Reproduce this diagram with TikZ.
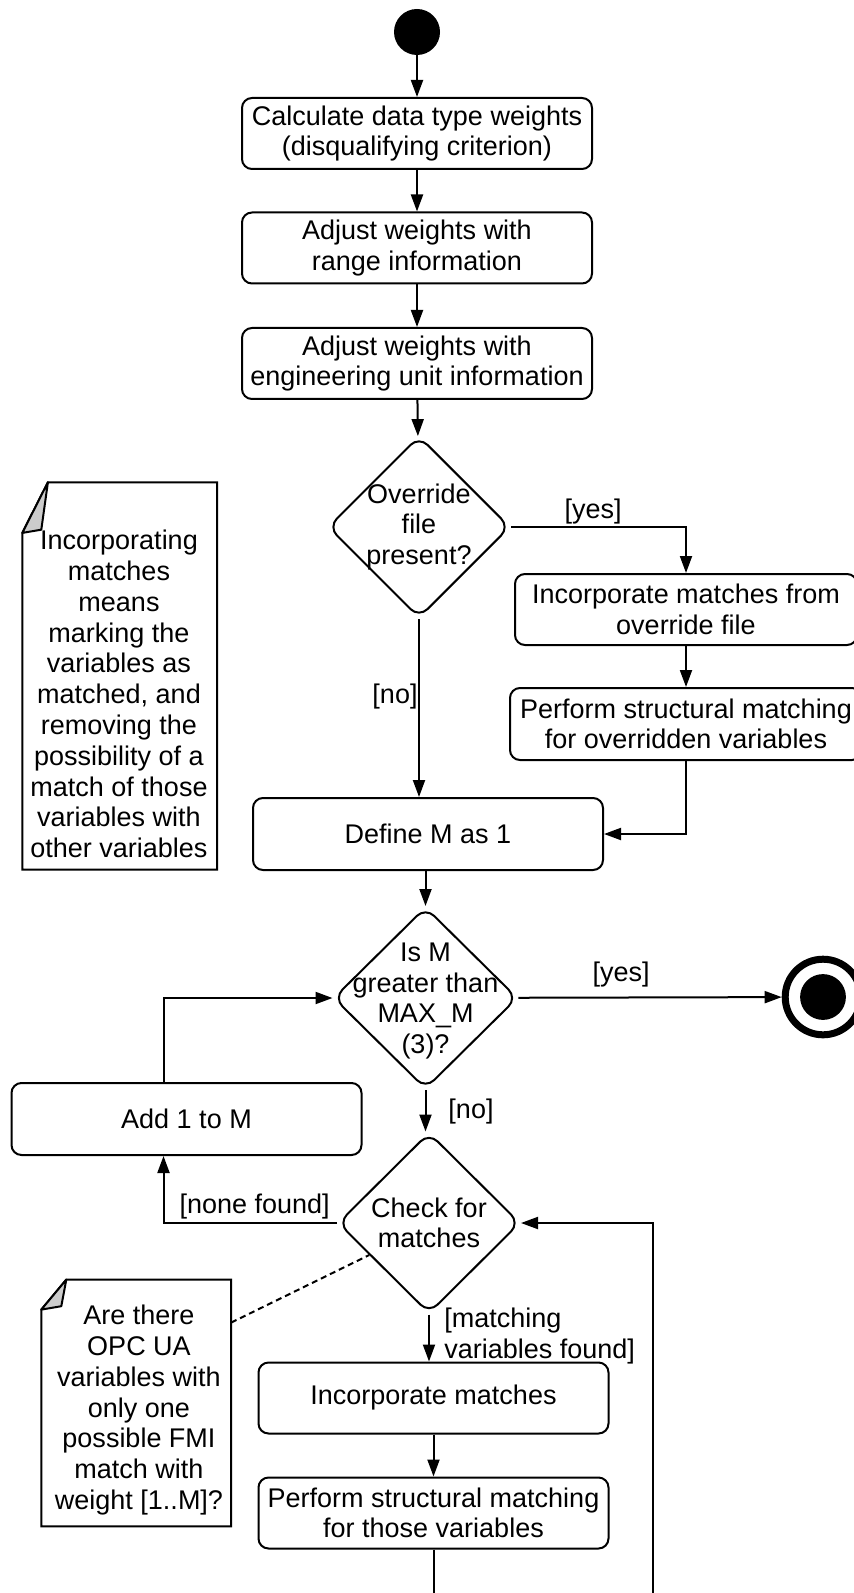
\documentclass[tikz,border=0pt]{standalone}
\usepackage{fontspec}
\setmainfont{Liberation Sans}
\usetikzlibrary{arrows.meta,shapes.geometric,calc}

\definecolor{foldgray}{RGB}{204,204,204}

\tikzset{
    action/.style={draw=black,line width=1pt,rounded corners=5pt,minimum width=175pt,minimum height=35.5pt,align=center,inner sep=0pt},
    decision/.style={draw=black,line width=1pt,diamond,rounded corners=6pt,minimum width=91pt,minimum height=91pt,inner sep=0pt},
    flow/.style={draw=black,line width=1pt,-{Triangle[length=8.5pt,width=6pt]}},
    guard/.style={inner sep=0pt,align=center},
    notetext/.style={inner sep=0pt,align=center,font=\fontsize{13.5}{15.4}\selectfont},
}

\begin{document}
\begin{tikzpicture}[x=0.5pt,y=-0.5pt,font=\fontsize{13.5}{15.3}\selectfont]
    \clip (0,0) rectangle (854,1593);
    \useasboundingbox (0,0) rectangle (854,1593);

    \begin{scope}[every node/.style={action}]
        \node (calc) at (417,133.5) {Calculate data type weights\\(disqualifying criterion)};
        \node (range) at (417,248) {Adjust weights with\\range information};
        \node (unit) at (417,363.5) {Adjust weights with\\engineering unit information};

        \node[minimum width=171pt] (incover) at (686,609.5) {Incorporate matches from\\override file};
        \node[minimum width=176pt,minimum height=36pt] (perfover) at (686,724) {Perform structural matching\\for overridden variables};

        \node[minimum height=36pt] (define) at (428,834) {Define M as 1};
        \node[minimum height=36pt] (add) at (186.5,1119) {Add 1 to M};

        \node (incm) at (433.5,1398) {Incorporate matches};
        \node (perfm) at (433.5,1513) {Perform structural matching\\for those variables};
    \end{scope}

    % decisions, text set as centre labels so the diamonds keep their size
    \node[decision,label={[guard]center:Override\\file\\present?}] (override) at (419,527) {};
    \node[decision,minimum width=92pt,label={[guard,yshift=-1.5pt]center:Is M\\greater than\\MAX\_M\\(3)?}] (ism) at (425.5,998) {};
    \node[decision,minimum height=90.5pt,label={[guard]center:Check for\\matches}] (check) at (429,1223) {};

    % start and end
    \node[circle,fill=black,minimum size=23pt,inner sep=0pt] (start) at (417,32) {};
    \node[circle,draw=black,line width=3.5pt,minimum size=37.8pt,inner sep=0pt] (final) at (823,997) {};
    \node[circle,fill=black,minimum size=22.9pt,inner sep=0pt] (finaldot) at (823,997) {};

    % guards
    \node[guard] (yes1) at (593,511.7) {[yes]};
    \node[guard] (no1) at (395,696.7) {[no]};
    \node[guard] (yes2) at (621,975) {[yes]};
    \node[guard] (no2) at (471,1111.7) {[no]};
    \node[guard] (nonefound) at (254.6,1206.7) {[none found]};
    \node[guard,anchor=west,align=left] (found) at (444,1336) {[matching\\variables found]};

    \begin{scope}[every edge/.style={flow}]
        \path (start) edge (calc);
        \path (calc) edge (range);
        \path (range) edge (unit);
        \path (unit) edge (override);
        \path (incover) edge (perfover);
        \path (ism) edge (final);
        \path (incm) edge (perfm);

        \path (override.south) edge (override.south |- define.north);
        \path (ism.north |- define.south) edge (ism.north);
        \path (ism.south) edge (ism.south |- check.north);
        \path (check.south) edge (check.south |- incm.north);
    \end{scope}

    \coordinate (loopback) at (652.5,1650);
    \draw[flow] (override.east) -| (incover.north);
    \draw[flow] (perfover.south) |- (define.east);
    \draw[flow] ([xshift=-11.5pt]add.north) |- (ism.west);
    \draw[flow] (check.west) -| ([xshift=-11.5pt]add.south);
    \draw[flow] (perfm.south) |- (loopback) |- (check.east);

    % notes
    \node[minimum width=97pt,minimum height=193.2pt,inner sep=0pt] (note1) at (119.7,675.9) {};
    \node[notetext] (note1text) at (119,694) {Incorporating\\matches\\means\\marking the\\variables as\\matched, and\\removing the\\possibility of a\\match of those\\variables with\\other variables};
    \draw[line width=1pt] ([xshift=12.8pt]note1.north west) -- (note1.north east) -- (note1.south east) -- (note1.south west) -- ([yshift=-25.3pt]note1.north west) -- cycle;
    \filldraw[fill=foldgray,line width=1pt,line join=round] ([xshift=12.8pt]note1.north west) -- ([yshift=-25.3pt]note1.north west) -- ([xshift=9.5pt,yshift=-23.7pt]note1.north west) -- cycle;

    \node[minimum width=94.5pt,minimum height=123pt,inner sep=0pt] (note2) at (136.2,1403) {};
    \node[notetext] (note2text) at (139,1410) {Are there\\OPC UA\\variables with\\only one\\possible FMI\\match with\\weight [1..M]?};
    \draw[line width=1pt] ([xshift=12.5pt]note2.north west) -- (note2.north east) -- (note2.south east) -- (note2.south west) -- ([yshift=-15pt]note2.north west) -- cycle;
    \filldraw[fill=foldgray,line width=1pt,line join=round] ([xshift=12.5pt]note2.north west) -- ([yshift=-15pt]note2.north west) -- ([xshift=10pt,yshift=-13.3pt]note2.north west) -- cycle;

    \draw[line width=1pt,dash pattern=on 3pt off 2pt] ([yshift=-21.5pt]note2.north east) -- ($(check.west)!0.35!(check.south)$);
\end{tikzpicture}
\end{document}
